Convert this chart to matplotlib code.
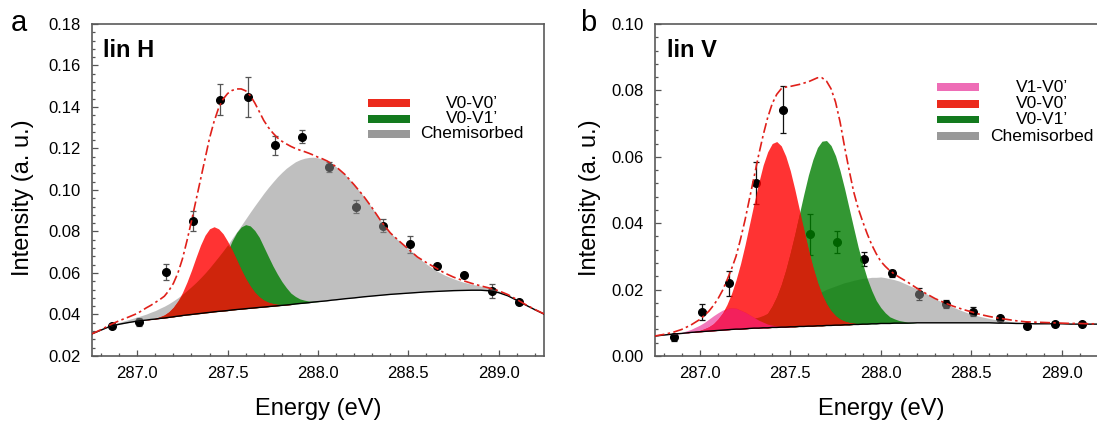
import matplotlib
matplotlib.use('Agg')
import matplotlib.pyplot as plt
import numpy as np
from matplotlib.patches import Rectangle
from matplotlib.ticker import MultipleLocator, FormatStrFormatter

plt.rcParams['font.family'] = ['Liberation Sans', 'DejaVu Sans']

# --- energies at which the fitted curves were read (finer where the peaks are) ---
energy = np.round(np.concatenate([np.linspace(286.75, 286.95, 5),
                                  np.linspace(287.00, 288.10, 45),
                                  np.linspace(288.15, 289.25, 23)]), 3)

# --- measured points (same energies in both panels) ---
pts_energy = [286.86, 287.01, 287.16, 287.31, 287.46, 287.61, 287.76, 287.91,
              288.06, 288.21, 288.36, 288.51, 288.66, 288.81, 288.96, 289.11]

# ================= panel a : lin H =================
pts_a = [0.0346, 0.0364, 0.0605, 0.0851, 0.1435, 0.1448, 0.1215, 0.1257,
         0.1112, 0.0920, 0.0828, 0.0738, 0.0635, 0.0592, 0.0513, 0.0462]
err_a = [0.0010, 0.0020, 0.0038, 0.0048, 0.0074, 0.0095, 0.0044, 0.0032,
         0.0024, 0.0032, 0.0030, 0.0040, 0.0010, 0.0010, 0.0032, 0.0010]

base_a = ([.0307, .0325, .0343, .0353, .0361] +
          [.0368, .0371, .0373, .0376, .0378, .0381, .0383, .0386, .0389, .0392,
           .0395, .0398, .0400, .0403, .0405, .0408, .0410, .0413, .0415, .0417,
           .0419, .0422, .0424, .0426, .0428, .0430, .0432, .0434, .0436, .0438,
           .0440, .0442, .0444, .0446, .0448, .0451, .0453, .0455, .0457, .0460,
           .0462, .0464, .0466, .0469, .0471] +
          [.0476, .0480, .0485, .0489, .0493, .0497, .0500, .0503, .0506, .0509,
           .0511, .0513, .0515, .0516, .0517, .0517, .0514, .0505, .0490, .0468,
           .0445, .0423, .0402])
# peak heights above the background
chem_a = ([.0002, .0004, .0006, .0009, .0014] +
          [.0020, .0024, .0029, .0035, .0041, .0049, .0057, .0066, .0077, .0089,
           .0102, .0117, .0134, .0151, .0171, .0191, .0214, .0238, .0263, .0289,
           .0316, .0345, .0374, .0403, .0433, .0463, .0492, .0520, .0548, .0574,
           .0598, .0621, .0641, .0659, .0673, .0685, .0693, .0698, .0700, .0698,
           .0693, .0685, .0673, .0659, .0641] +
          [.0598, .0545, .0488, .0424, .0355, .0296, .0253, .0212, .0171, .0134,
           .0102, .0077, .0057, .0041, .0029, .0020, .0014, .0009, .0006, .0004,
           .0002, .0001, .0001])
v00_a = ([0, 0, 0, 0, 0] +
         [0, 0, .0001, .0002, .0004, .0008, .0015, .0027, .0046, .0073,
          .0111, .0158, .0213, .0272, .0329, .0374, .0403, .0410, .0398, .0372,
          .0334, .0288, .0239, .0190, .0145, .0107, .0075, .0051, .0033, .0021,
          .0013, .0007, .0004, .0002, .0001, 0, 0, 0, 0, 0,
          0, 0, 0, 0, 0] +
         [0] * 23)
v01_a = ([0, 0, 0, 0, 0] +
         [0, 0, 0, 0, 0, 0, 0, .0001, .0002, .0003,
          .0006, .0010, .0018, .0029, .0046, .0070, .0101, .0140, .0186, .0235,
          .0286, .0333, .0371, .0396, .0405, .0397, .0373, .0338, .0290, .0242,
          .0195, .0153, .0115, .0083, .0055, .0036, .0022, .0014, .0008, .0004,
          .0002, .0001, 0, 0, 0] +
         [0] * 23)
fit_a = ([.0307, .0327, .0350, .0370, .0387] +
         [.0405, .0418, .0432, .0444, .0458, .0472, .0488, .0515, .0550, .0600,
          .0668, .0755, .0850, .0950, .1050, .1150, .1250, .1330, .1395, .1438,
          .1465, .1480, .1487, .1487, .1478, .1455, .1420, .1378, .1335, .1302,
          .1275, .1252, .1235, .1222, .1210, .1200, .1192, .1185, .1177, .1168,
          .1158, .1150, .1140, .1127, .1112] +
         [.1074, .1025, .0973, .0913, .0848, .0793, .0753, .0715, .0677, .0650,
          .0625, .0600, .0580, .0564, .0550, .0538, .0527, .0514, .0496, .0472,
          .0447, .0424, .0403])

# ================= panel b : lin V =================
pts_b = [0.0056, 0.0132, 0.0219, 0.0521, 0.0742, 0.0366, 0.0344, 0.0292,
         0.0249, 0.0186, 0.0157, 0.0134, 0.0113, 0.0090, 0.0096, 0.0096]
err_b = [0.0010, 0.0025, 0.0038, 0.0064, 0.0071, 0.0062, 0.0033, 0.0020,
         0.0010, 0.0018, 0.0013, 0.0015, 0.0008, 0.0006, 0.0007, 0.0007]

base_b = ([.0060, .0063, .0066, .0068, .0071] +
          [.0073, .0074, .0075, .0076, .0077, .0078, .0079, .0080, .0081, .0081,
           .0082, .0083, .0084, .0084, .0085, .0085, .0086, .0086, .0087, .0087,
           .0088, .0088, .0089, .0089, .0090, .0090, .0091, .0091, .0092, .0092,
           .0093, .0093, .0094, .0094, .0095, .0095, .0096, .0096, .0097, .0097,
           .0098, .0098, .0098, .0099, .0099] +
          [.0099, .0100, .0100, .0100, .0100, .0100, .0100, .0100, .0100, .0100,
           .0099, .0099, .0098, .0098, .0097, .0097, .0097, .0097, .0096, .0096,
           .0096, .0096, .0096])
v10_b = ([0, 0, .0001, .0003, .0009] +
         [.0020, .0027, .0036, .0045, .0053, .0060, .0064, .0065, .0063, .0057,
          .0050, .0041, .0032, .0024, .0017, .0011, .0007, .0004, .0003, .0002,
          .0001] + [0] * 24 +
         [0] * 23)
v00_b = ([0, 0, 0, 0, .0001] +
         [.0004, .0008, .0013, .0021, .0034, .0051, .0076, .0108, .0148, .0197,
          .0253, .0315, .0377, .0437, .0490, .0530, .0554, .0560, .0546, .0515,
          .0470, .0414, .0352, .0290, .0230, .0177, .0131, .0094, .0065, .0044,
          .0028, .0018, .0011, .0007, .0004, .0002, .0001, 0, 0, 0,
          0, 0, 0, 0, 0] +
         [0] * 23)
v01_b = ([0, 0, 0, 0, 0] +
         [0, 0, 0, 0, 0, 0, 0, .0001, .0001, .0002,
          .0004, .0007, .0012, .0019, .0029, .0044, .0065, .0093, .0128, .0172,
          .0223, .0279, .0339, .0399, .0455, .0502, .0537, .0556, .0557, .0542,
          .0510, .0465, .0410, .0351, .0291, .0233, .0182, .0137, .0100, .0070,
          .0048, .0032, .0020, .0013, .0008] +
         [.0003] + [0] * 22)
chem_b = ([.0001, .0002, .0002, .0003, .0004] +
          [.0005, .0006, .0007, .0008, .0010, .0012, .0014, .0016, .0018, .0020,
           .0023, .0026, .0030, .0033, .0037, .0041, .0045, .0050, .0055, .0060,
           .0065, .0070, .0076, .0081, .0087, .0092, .0098, .0103, .0109, .0114,
           .0118, .0123, .0127, .0130, .0133, .0136, .0138, .0139, .0140, .0140,
           .0140, .0138, .0135, .0131, .0127] +
          [.0115, .0102, .0088, .0073, .0059, .0047, .0036, .0026, .0019, .0013,
           .0009, .0006, .0004, .0002, .0001] + [0] * 8)
fit_b = ([.0060, .0065, .0071, .0080, .0093] +
         [.0110, .0122, .0135, .0152, .0172, .0197, .0228, .0262, .0300, .0352,
          .0410, .0475, .0540, .0605, .0665, .0718, .0760, .0788, .0805, .0810,
          .0812, .0815, .0818, .0822, .0826, .0832, .0838, .0838, .0828, .0805,
          .0765, .0705, .0630, .0560, .0495, .0445, .0405, .0368, .0335, .0308,
          .0285, .0270, .0257, .0247, .0238] +
         [.0222, .0204, .0188, .0173, .0161, .0150, .0141, .0133, .0125, .0119,
          .0114, .0110, .0106, .0103, .0102, .0101, .0100, .0099, .0098, .0098,
          .0097, .0097, .0097])

legend_a = ['V0-V0\u2019', 'V0-V1\u2019', 'Chemisorbed']
legend_b = ['V1-V0\u2019', 'V0-V0\u2019', 'V0-V1\u2019', 'Chemisorbed']

# colours
c_gray, c_green, c_red, c_pink = '#8c8c8c', '#007d00', '#ff0000', '#f06ab4'
c_dark_red, c_crimson = '#cf250c', '#f3205c'
leg_colors = {'V1-V0\u2019': '#ee6db6', 'V0-V0\u2019': '#ec2a1c',
              'V0-V1\u2019': '#137a1e', 'Chemisorbed': '#999999'}


def style_axes(ax, ylim, ymajor, yminor):
    ax.set_xlim(286.75, 289.25)
    ax.set_ylim(*ylim)
    ax.xaxis.set_major_locator(MultipleLocator(0.5))
    ax.xaxis.set_minor_locator(MultipleLocator(0.1))
    ax.yaxis.set_major_locator(MultipleLocator(ymajor))
    ax.yaxis.set_minor_locator(MultipleLocator(yminor))
    ax.xaxis.set_major_formatter(FormatStrFormatter('%.1f'))
    ax.yaxis.set_major_formatter(FormatStrFormatter('%.2f'))
    ax.tick_params(which='both', direction='in', color='#555555', width=0.9,
                   labelsize=12, top=False, right=False)
    ax.tick_params(which='major', length=4.5)
    ax.tick_params(which='minor', length=2.5)
    ax.tick_params(axis='x', pad=7)
    ax.tick_params(axis='y', pad=8)
    for s in ax.spines.values():
        s.set_color('#5a5a5a')
        s.set_linewidth(1.2)


def draw_legend(ax, labels, x_patch, x_text, ys):
    for lab, y in zip(labels, ys):
        ax.add_patch(Rectangle((x_patch, y - 0.0113), 0.093, 0.0226,
                               transform=ax.transAxes, color=leg_colors[lab],
                               lw=0, zorder=10))
        ax.text(x_text, y, lab, transform=ax.transAxes, ha='center',
                va='center', fontsize=12.5, zorder=10)


def labels(ax, name, x_name, x_ylab):
    ax.text(x_name, 0.9015, name, transform=ax.transAxes, fontsize=17,
            fontweight='bold', va='baseline')
    ax.text(0.5, -0.16, 'Energy (eV)', transform=ax.transAxes, ha='center',
            va='center', fontsize=17)
    ax.text(x_ylab, 0.477, 'Intensity (a. u.)', transform=ax.transAxes,
            ha='center', va='center', rotation=90, fontsize=17)


fig = plt.figure(figsize=(10.97, 4.21), dpi=100)
ax_a = fig.add_axes([0.0839, 0.1544, 0.4120, 0.7886])
ax_b = fig.add_axes([0.5967, 0.1544, 0.4124, 0.7886])

# ---------------- panel a ----------------
ax = ax_a
b = np.array(base_a)
chem, v00, v01 = np.array(chem_a), np.array(v00_a), np.array(v01_a)
ax.errorbar(pts_energy, pts_a, yerr=err_a, fmt='o', color='black', ms=5.5,
            ecolor='#555555', elinewidth=0.9, capsize=2.5, capthick=0.9, zorder=2)
ax.fill_between(energy, b, b + chem, color=c_gray, alpha=0.55, lw=0, zorder=3)
ax.fill_between(energy, b, b + v01, color=c_green, alpha=0.8, lw=0, zorder=4)
ax.fill_between(energy, b, b + v00, color=c_red, alpha=0.8, lw=0, zorder=5)
under = np.minimum(v00, np.maximum(chem, v01))
ax.fill_between(energy, b, b + under, color=c_dark_red, lw=0, zorder=6)
ax.plot(energy, b, color='black', lw=1.0, zorder=7)
ax.plot(energy, fit_a, color='#e0201a', lw=1.2, ls=(0, (6, 2, 1.5, 2)), zorder=8)
style_axes(ax, (0.02, 0.18), 0.02, 0.004)
draw_legend(ax, legend_a, 0.611, 0.841, [0.762, 0.714, 0.669])
labels(ax, 'lin H', 0.024, -0.153)

# ---------------- panel b ----------------
ax = ax_b
b = np.array(base_b)
chem, v00, v01, v10 = np.array(chem_b), np.array(v00_b), np.array(v01_b), np.array(v10_b)
ax.errorbar(pts_energy, pts_b, yerr=err_b, fmt='o', color='black', ms=5.5,
            ecolor='#111111', elinewidth=0.9, capsize=2.5, capthick=0.9, zorder=2)
ax.fill_between(energy, b, b + chem, color=c_gray, alpha=0.55, lw=0, zorder=3)
ax.fill_between(energy, b, b + v01, color=c_green, alpha=0.8, lw=0, zorder=4)
ax.fill_between(energy, b, b + v10, color=c_pink, alpha=0.9, lw=0, zorder=4.5)
ax.fill_between(energy, b, b + v00, color=c_red, alpha=0.8, lw=0, zorder=5)
under = np.minimum(v00, np.maximum(chem, v01))
ax.fill_between(energy, b, b + under, color=c_dark_red, lw=0, zorder=6)
ax.fill_between(energy, b, b + np.minimum(v00, v10), color=c_crimson, lw=0, zorder=6.5)
ax.plot(energy, b, color='black', lw=1.0, zorder=7)
ax.plot(energy, fit_b, color='#e0201a', lw=1.2, ls=(0, (6, 2, 1.5, 2)), zorder=8)
style_axes(ax, (0.0, 0.10), 0.02, 0.004)
draw_legend(ax, legend_b, 0.6236, 0.8557, [0.8096, 0.7596, 0.7117, 0.6620])
labels(ax, 'lin V', 0.027, -0.143)

# panel letters
fig.text(0.0173, 0.927, 'a', fontsize=21, ha='center', va='baseline')
fig.text(0.536, 0.926, 'b', fontsize=21, ha='center', va='baseline')

fig.savefig('out.png', dpi=100)
